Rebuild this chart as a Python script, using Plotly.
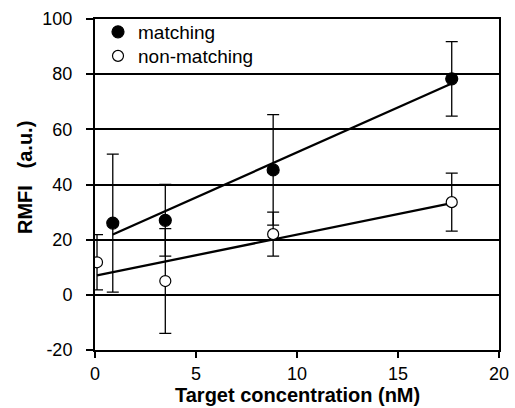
import numpy as np
import plotly.graph_objects as go

# Data
match_x = [0.88, 3.48, 8.82, 17.66]
match_y = [26.0, 27.0, 45.3, 78.3]
match_err = [25.0, 13.0, 20.0, 13.5]

nonmatch_x = [0.1, 3.48, 8.82, 17.66]
nonmatch_y = [11.8, 5.0, 22.0, 33.6]
nonmatch_err = [10.0, 19.0, 8.0, 10.5]

x_ticks = [0, 5, 10, 15, 20]
y_ticks = [-20, 0, 20, 40, 60, 80, 100]
y_ticktext = ["-20", "0", "20", "40", "60", "80", "100"]

x_title = "Target concentration (nM)"
y_title = "RMFI   (a.u.)"

font_family = "Liberation Sans, Arial, sans-serif"
W, H = 515, 408
L, R, T, B = 95, 16, 19, 58

fig = go.Figure()

def trend(xs, ys):
    k, b = np.polyfit(xs, ys, 1)
    xx = np.array([min(xs), max(xs)])
    return xx, k * xx + b

for xs, ys in [(match_x, match_y), (nonmatch_x, nonmatch_y)]:
    tx, ty = trend(xs, ys)
    fig.add_trace(go.Scatter(x=tx, y=ty, mode="lines", line=dict(color="black", width=2.3),
                             showlegend=False, hoverinfo="skip"))

fig.add_trace(go.Scatter(
    x=match_x, y=match_y, mode="markers", name="matching", legend="legend",
    marker=dict(symbol="circle", size=12, color="black", line=dict(color="black", width=1.2)),
    error_y=dict(type="data", array=match_err, visible=True, color="black", thickness=1.3, width=6),
))
fig.add_trace(go.Scatter(
    x=nonmatch_x, y=nonmatch_y, mode="markers", name="non-matching", legend="legend2",
    marker=dict(symbol="circle", size=11, color="white", line=dict(color="black", width=1.2)),
    error_y=dict(type="data", array=nonmatch_err, visible=True, color="black", thickness=1.3, width=6),
))

leg_common = dict(xref="container", yref="container", xanchor="left", yanchor="top",
                  bgcolor="rgba(0,0,0,0)", font=dict(size=19))

fig.update_layout(
    width=W, height=H,
    margin=dict(l=L, r=R, t=T, b=B, autoexpand=False),
    paper_bgcolor="white", plot_bgcolor="white",
    font=dict(family=font_family, size=18, color="black"),
    legend=dict(x=98 / W, y=1 - 13 / H, **leg_common),
    legend2=dict(x=98 / W, y=1 - 37 / H, **leg_common),
    xaxis=dict(
        range=[0, 20], tickvals=x_ticks, showgrid=False, zeroline=False,
        showline=True, linecolor="black", linewidth=2, mirror=True,
        ticks="outside", ticklen=6, tickwidth=1.5, tickcolor="black",
        tickfont=dict(size=18), ticklabelstandoff=0, automargin=False,
    ),
    yaxis=dict(
        range=[-20, 100], tickvals=y_ticks, ticktext=y_ticktext,
        showgrid=True, gridcolor="black", gridwidth=1.5,
        zeroline=True, zerolinecolor="black", zerolinewidth=1.5,
        showline=True, linecolor="black", linewidth=2, mirror=True,
        ticks="outside", ticklen=7, tickwidth=1.5, tickcolor="black",
        tickfont=dict(size=18), ticklabelstandoff=10, automargin=False,
    ),
    annotations=[
        dict(text="<b>" + x_title + "</b>", xref="paper", yref="paper",
             x=0.5, y=(H - B - H) / (H - T - B), xanchor="center", yanchor="bottom",
             showarrow=False, font=dict(size=20)),
        dict(text="<b>" + y_title + "</b>", xref="paper", yref="paper",
             x=(25 - L) / (W - L - R), y=(H - B - 178) / (H - T - B),
             xanchor="center", yanchor="middle", textangle=-90,
             showarrow=False, font=dict(size=20)),
    ],
)

fig.write_html("out.html", config={"displayModeBar": False},
               post_script="document.body.style.margin='0px';")
